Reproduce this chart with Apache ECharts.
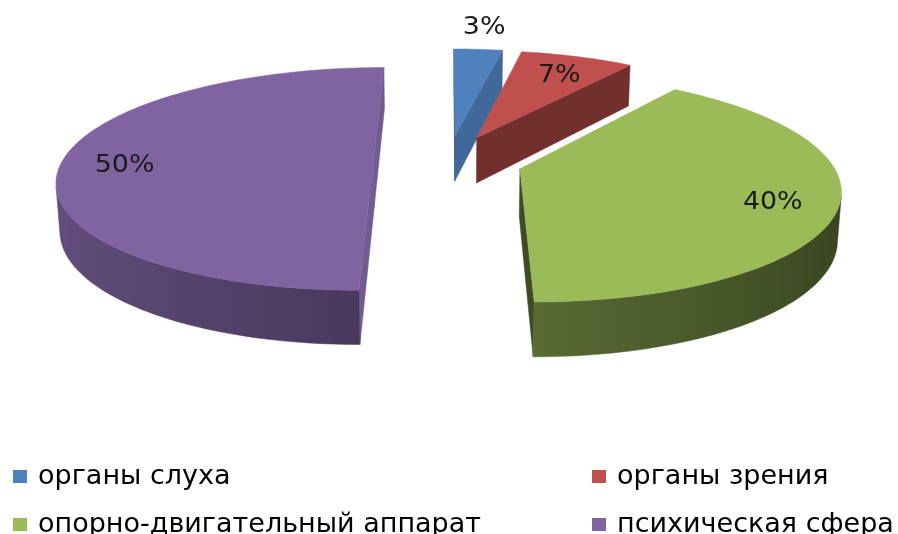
<!DOCTYPE html>
<html>
<head>
<meta charset="utf-8">
<script src="https://cdn.jsdelivr.net/npm/echarts@6/dist/echarts.min.js"></script>
<style>html,body{margin:0;padding:0;background:#fff}#chart{width:898px;height:534px}</style>
</head>
<body>
<div id="chart"></div>
<script>
const categories = ['органы слуха', 'органы зрения', 'опорно-двигательный аппарат', 'психическая сфера'];
const values = [3, 7, 40, 50];
const colors = ['#4F81BD', '#C0504D', '#9BBB59', '#8064A2'];
const legendLeftColumn = [categories[0], categories[2]];
const legendRightColumn = [categories[1], categories[3]];

// 3D view parameters (perspective projection of an exploded pie)
const VIEW = { tilt: 20.4, dist: 6.13, explode: 0.24, thickness: 0.162, cxRatio: 0.499, cyRatio: 0.301, focal: 1.99 };

const total = values.reduce((a, b) => a + b, 0);
const starts = [];
(function () { let acc = 0; values.forEach(v => { starts.push(acc / total * 360); acc += v; }); })();
const rad = d => d * Math.PI / 180;

function shade(hex, f) {
  const n = parseInt(hex.slice(1), 16);
  const r = Math.min(255, Math.round(((n >> 16) & 255) * f));
  const g = Math.min(255, Math.round(((n >> 8) & 255) * f));
  const b = Math.min(255, Math.round((n & 255) * f));
  return 'rgb(' + r + ',' + g + ',' + b + ')';
}

function makeRender(i) {
  return function (params, api) {
    const W = api.getWidth(), H = api.getHeight();
    const cx = W * VIEW.cxRatio, cy = H * VIEW.cyRatio, F = W * VIEW.focal;
    const A = rad(VIEW.tilt), cA = Math.cos(A), sA = Math.sin(A);
    const D = VIEW.dist * cA, h = VIEW.thickness, e = VIEW.explode;
    const proj = (P, Y) => {
      const yc = P[1] * sA + Y * cA;
      const zc = D + P[1] * cA - Y * sA;
      return [cx + F * P[0] / zc, cy - F * yc / zc];
    };
    const v = api.value(0);
    const t0 = starts[i], t1 = t0 + v / total * 360, tm = (t0 + t1) / 2;
    const O = [e * Math.sin(rad(tm)), e * Math.cos(rad(tm))];
    const pt = (t, r) => [O[0] + r * Math.sin(rad(t)), O[1] + r * Math.cos(rad(t))];
    const facing = (P, n) => (-P[0] * n[0] + (-D * cA - P[1]) * n[1]) > 0;
    const base = colors[i];
    const children = [];

    const steps = Math.max(2, Math.ceil((t1 - t0) / 1.5));
    const ts = [];
    for (let k = 0; k <= steps; k++) ts.push(t0 + (t1 - t0) * k / steps);

    // radial walls
    [[t0, [-Math.cos(rad(t0)), Math.sin(rad(t0))]], [t1, [Math.cos(rad(t1)), -Math.sin(rad(t1))]]].forEach(([t, n]) => {
      const E = pt(t, 1);
      const M = pt(t, 0.5);
      if (!facing(M, n)) return;
      const f = 0.65 + 0.25 * n[0] + 0.45 * n[1];
      children.push({
        type: 'polygon',
        shape: { points: [proj(O, 0), proj(E, 0), proj(E, -h), proj(O, -h)] },
        style: { fill: shade(base, f), stroke: shade(base, f), lineWidth: 0.5 }
      });
    });

    // curved outer wall
    const vis = ts.filter(t => facing(pt(t, 1), [Math.sin(rad(t)), Math.cos(rad(t))]));
    if (vis.length >= 2) {
      const topPts = vis.map(t => proj(pt(t, 1), 0));
      const botPts = vis.map(t => proj(pt(t, 1), -h));
      const xs = topPts.map(p => p[0]);
      const xmin = Math.min.apply(null, xs), xmax = Math.max.apply(null, xs);
      const stops = vis.map((t, k) => ({
        offset: (xs[k] - xmin) / Math.max(1, xmax - xmin),
        color: shade(base, 0.57 - 0.21 * Math.sin(rad(t)))
      })).sort((a, b) => a.offset - b.offset);
      const grad = { type: 'linear', x: xmin, y: 0, x2: xmax, y2: 0, global: true, colorStops: stops };
      children.push({
        type: 'polygon',
        shape: { points: topPts.concat(botPts.reverse()) },
        style: { fill: grad, stroke: grad, lineWidth: 0.5 }
      });
    }

    // top face
    const top = [proj(O, 0)].concat(ts.map(t => proj(pt(t, 1), 0)));
    children.push({ type: 'polygon', shape: { points: top }, style: { fill: base, stroke: base, lineWidth: 0.5 } });

    // label
    const share = v / total;
    const outside = share < 0.05;
    const L = pt(tm, outside ? 1.3 : 0.8);
    const lp = proj(L, 0);
    children.push({
      type: 'text', x: lp[0], y: lp[1] + (outside ? 0 : 5), scaleX: 1.12, z2: 10,
      style: {
        text: Math.round(share * 100) + '%', fill: '#1a1a1a',
        font: '24px "DejaVu Sans"', align: 'center', verticalAlign: 'middle'
      }
    });
    return { type: 'group', children: children };
  };
}

// draw order: farther slices first
const depth = values.map((v, i) => Math.cos(rad(starts[i] + v / total * 180)));
const order = depth.map((d, i) => i).sort((a, b) => depth[b] - depth[a]);
const zOf = {}; order.forEach((idx, rank) => { zOf[idx] = 2 + rank; });

const legendBase = {
  orient: 'vertical', top: 463, height: 100, itemWidth: 14, itemHeight: 13, itemGap: 21, icon: 'rect',
  selectedMode: false, padding: 0,
  textStyle: { fontFamily: 'DejaVu Sans', fontSize: 27, lineHeight: 25, color: '#000', padding: [0, 0, 0, 6] }
};

const chart = echarts.init(document.getElementById('chart'), null, { renderer: 'canvas' });
chart.setOption({
  animation: false,
  backgroundColor: '#fff',
  legend: [
    Object.assign({}, legendBase, { left: 13, data: legendLeftColumn }),
    Object.assign({}, legendBase, { left: 592, data: legendRightColumn })
  ],
  series: categories.map((name, i) => ({
    type: 'custom', name: name, coordinateSystem: 'none', z: zOf[i],
    renderItem: makeRender(i),
    itemStyle: { color: colors[i] },
    data: [[values[i]]]
  }))
});
</script>
</body>
</html>
